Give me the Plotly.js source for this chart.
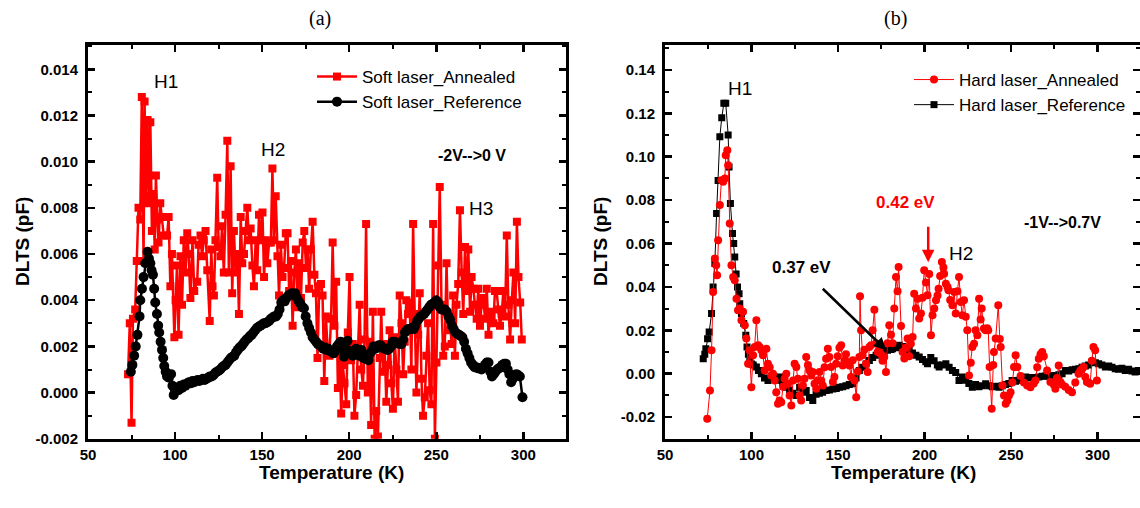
<!DOCTYPE html>
<html>
<head>
<meta charset="utf-8">
<script src="https://cdn.plot.ly/plotly-3.0.1.min.js"></script>
<style>html,body{margin:0;padding:0;background:#fff;}#chart{width:1140px;height:508px;}</style>
</head>
<body>
<div id="chart"></div>
<script>
// ---------- Panel (a): soft laser ----------
const softAnnT = [73.0,74.0,75.0,75.8,77.1,78.0,79.0,80.0,80.9,81.9,82.5,83.3,84.2,85.0,85.8,86.7,87.5,88.3,89.0,89.8,90.5,91.5,92.5,93.5,95.4,96.3,97.3,98.2,99.6,100.3,101.1,102.0,103.1,104.0,105.0,106.0,107.0,107.8,108.8,110.0,111.0,112.7,113.5,114.6,115.5,116.5,117.5,118.5,119.9,120.8,121.5,122.3,123.2,124.2,125.0,126.1,127.0,128.0,129.0,130.0,130.9,131.9,132.8,133.8,134.8,135.8,136.7,137.7,138.6,139.6,140.5,141.5,142.4,143.4,144.4,145.3,146.3,147.2,148.2,149.2,150.2,151.1,152.1,153.0,154.0,155.0,155.9,156.8,157.8,158.8,159.7,160.7,161.7,162.6,163.6,164.6,165.5,166.5,167.5,168.5,169.4,170.4,171.3,172.3,173.3,174.2,175.2,176.1,177.0,178.0,179.0,180.0,180.9,181.8,182.8,183.8,184.7,185.7,186.6,187.6,188.6,189.6,190.5,191.5,192.5,193.5,194.4,195.4,196.3,197.3,198.3,199.2,200.2,201.1,202.1,203.0,204.0,205.0,206.0,206.9,207.9,208.8,209.7,210.7,211.6,212.6,213.6,214.6,215.5,216.5,217.5,218.4,219.4,220.3,221.3,222.3,223.2,224.2,225.1,226.1,227.1,228.0,229.0,230.0,231.0,231.9,232.8,233.8,234.7,235.7,236.7,237.6,238.6,239.6,240.5,241.5,242.4,243.4,244.3,245.3,246.2,247.2,248.2,249.2,250.1,251.1,252.0,253.0,254.0,254.9,255.9,256.8,257.8,258.8,259.7,260.7,261.6,262.6,263.6,264.6,265.5,266.5,267.5,268.4,269.4,270.3,271.3,272.2,273.2,274.1,275.1,276.0,277.0,278.0,279.0,280.0,280.9,281.8,282.8,283.7,284.7,285.6,286.6,287.6,288.5,289.5,290.5,291.4,292.4,293.4,294.3,295.3,296.3,297.2,298.2,299.1];
const softAnnV = [0.0008,0.0030,-0.0013,0.0032,0.0036,0.0057,0.0080,0.0075,0.0128,0.0057,0.0126,0.0085,0.0118,0.0082,0.0117,0.0070,0.0086,0.0062,0.0094,0.0075,0.0065,0.0082,0.0076,0.0068,0.0068,0.0076,0.0046,0.0060,0.0024,0.0040,0.0055,0.0025,0.0059,0.0038,0.0066,0.0052,0.0069,0.0060,0.0041,0.0066,0.0044,0.0048,0.0064,0.0068,0.0059,0.0066,0.0070,0.0053,0.0031,0.0062,0.0046,0.0042,0.0066,0.0093,0.0063,0.0059,0.0072,0.0052,0.0077,0.0109,0.0052,0.0098,0.0043,0.0070,0.0052,0.0060,0.0034,0.0076,0.0056,0.0060,0.0070,0.0080,0.0066,0.0071,0.0055,0.0046,0.0066,0.0053,0.0077,0.0066,0.0078,0.0050,0.0066,0.0056,0.0065,0.0065,0.0097,0.0066,0.0085,0.0059,0.0042,0.0064,0.0050,0.0054,0.0069,0.0069,0.0044,0.0057,0.0029,0.0052,0.0062,0.0037,0.0056,0.0041,0.0065,0.0070,0.0054,0.0062,0.0045,0.0062,0.0074,0.0051,0.0043,0.0015,0.0046,0.0047,0.0042,0.0005,0.0033,0.0019,0.0016,0.0032,0.0065,0.0029,0.0048,0.0002,0.0020,-0.0009,0.0012,0.0004,-0.0005,0.0026,0.0050,0.0014,0.0021,-0.0010,-0.0001,0.0018,0.0038,0.0010,0.0003,0.0023,0.0073,0.0000,0.0022,-0.0014,0.0035,-0.0020,-0.0008,-0.0019,0.0015,0.0035,0.0009,0.0021,-0.0004,0.0012,0.0027,0.0004,-0.0007,0.0024,0.0010,-0.0004,0.0042,0.0030,0.0008,0.0022,0.0040,0.0034,0.0039,0.0010,0.0073,0.0034,0.0000,0.0025,0.0043,0.0006,-0.0010,-0.0002,0.0016,0.0030,0.0001,-0.0005,0.0073,-0.0020,0.0013,0.0055,0.0089,0.0038,0.0016,0.0020,0.0056,0.0027,0.0032,0.0021,0.0042,0.0016,0.0038,0.0047,0.0079,0.0052,0.0034,0.0063,0.0044,0.0062,0.0035,0.0050,0.0045,0.0038,0.0032,0.0045,0.0029,0.0038,0.0041,0.0032,0.0045,0.0025,0.0035,0.0033,0.0030,0.0044,0.0044,0.0036,0.0029,0.0034,0.0044,0.0033,0.0068,0.0038,0.0023,0.0040,0.0052,0.0030,0.0074,0.0050,0.0039,0.0023];

const softRefT = [74.6,75.5,76.5,77.4,78.4,79.6,80.0,81.0,81.9,82.9,84.2,85.0,85.8,86.5,87.3,88.0,88.6,89.6,90.3,90.9,91.7,92.5,93.2,93.8,94.6,95.4,96.5,97.7,98.5,99.2,100,101,102,103,104,105,106,107,108,109,110,111,112,113,114,115,116,117,118,119,120,121,122,123,124,125,126,127,128,129,130,131,132,133,134,135,136,137,138,139,140,141,142,143,144,145,146,147,148,149,150,151,152,153,154,155,156,157,158,159,160,161,162,163,164,165,166,167,168,169,170,171,172,173,174,175,176,177,178,179,180,181,182,183,184,185,186,187,188,189,190,191,192,193,194,195,196,197,198,199,200,201,202,203,204,205,206,207,208,209,210,211,212,213,214,215,216,217,218,219,220,221,222,223,224,225,226,227,228,229,230,231,232,233,234,235,236,237,238,239,240,241,242,243,244,245,246,247,248,249,250,251,252,253,254,255,256,257,258,259,260,261,262,263,264,265,266,267,268,269,270,271,272,273,274,275,276,277,278,279,280,281,282,283,284,285,286,287,288,289,290,291,292,293,294,295,296,297,298,299.5];
const softRefV = [0.0009,0.0012,0.0016,0.0020,0.0025,0.0033,0.0040,0.0045,0.0050,0.0056,0.0061,0.0058,0.0056,0.0053,0.0051,0.0045,0.0039,0.0034,0.0029,0.0026,0.0022,0.00185,0.0015,0.00115,0.0009,0.0007,0.00065,0.0008,0.0003,-0.0001,0.0001,0.0002,0.0001,0.0003,0.0002,0.00035,0.0003,0.0004,0.00045,0.0004,0.0005,0.00045,0.0005,0.00055,0.0005,0.00055,0.0006,0.00055,0.0006,0.00065,0.0007,0.0007,0.00075,0.00085,0.0009,0.00095,0.0010,0.0011,0.00115,0.0012,0.0013,0.0014,0.0015,0.00155,0.0016,0.00175,0.00185,0.00195,0.0020,0.0021,0.0022,0.0023,0.00235,0.00245,0.0025,0.0026,0.0027,0.0028,0.00285,0.0029,0.00295,0.0030,0.0030,0.00305,0.0031,0.0032,0.00325,0.0033,0.0033,0.0034,0.0036,0.0039,0.0040,0.00395,0.0041,0.0042,0.00425,0.0043,0.00425,0.0043,0.0041,0.00395,0.00385,0.0037,0.00365,0.0033,0.0030,0.0028,0.0026,0.0024,0.0023,0.0022,0.0021,0.00205,0.0020,0.0019,0.00195,0.00185,0.0019,0.0018,0.00175,0.0017,0.0018,0.0020,0.0021,0.0022,0.0019,0.00155,0.0017,0.00225,0.0018,0.0017,0.0016,0.0017,0.0019,0.0018,0.0016,0.00185,0.0015,0.0016,0.00145,0.0014,0.0017,0.0018,0.0020,0.0019,0.0020,0.00205,0.00205,0.00195,0.0019,0.0019,0.00185,0.0019,0.0020,0.0022,0.0022,0.00215,0.00215,0.0021,0.0021,0.0023,0.0026,0.0027,0.00275,0.00275,0.0028,0.00275,0.0029,0.0031,0.0032,0.0033,0.00335,0.0034,0.0035,0.0036,0.0037,0.0038,0.00385,0.0039,0.0040,0.0039,0.0037,0.0036,0.0036,0.0036,0.0035,0.0033,0.00315,0.0029,0.00275,0.0026,0.00255,0.0025,0.00245,0.0024,0.0022,0.0019,0.0017,0.0015,0.0013,0.0012,0.0011,0.0011,0.00105,0.00105,0.0010,0.0011,0.0012,0.0013,0.0013,0.0009,0.0007,0.0008,0.0009,0.0010,0.00105,0.0011,0.0012,0.00125,0.00125,0.0010,0.0008,0.00045,0.0006,0.00075,0.0008,0.00075,0.0007,-0.0002];

// ---------- Panel (b): hard laser ----------
const hardRefT = [72.1,73.0,73.6,74.6,75.5,76.9,77.8,78.8,79.8,80.7,81.7,82.8,84.0,85.1,86.5,87.0,87.8,89.0,89.7,90.3,91.1,91.9,92.8,93.2,94.2,95.5,96.7,97.4,98.2,99.0,100.0,101.0,102.8,104.0,105.7,107.5,109.5,111.5,113.4,115.0,116.2,118.0,120.1,122.0,124.0,125.9,127.8,129.7,131.6,133.5,135.4,137.3,139.2,141.1,143.1,145.0,147.0,149.0,150.8,152.7,154.6,156.5,158.5,160.4,162.3,164.2,166.2,168.1,170.0,172.0,173.9,174.8,176.7,178.6,180.6,181.5,183.4,185.4,187.3,189.2,191.1,193.0,195.0,196.9,198.8,200.7,201.7,203.6,205.5,207.4,208.4,210.3,212.3,214.2,216.1,218.0,219.9,221.8,223.7,225.6,227.6,229.5,231.4,233.3,235.3,237.2,239.1,241.0,243.0,244.9,246.8,248.7,250.6,252.6,254.5,256.4,258.4,260.3,262.2,264.1,266.0,268.0,269.9,271.8,273.7,275.6,277.6,279.5,281.4,283.3,285.3,287.2,289.1,291.0,292.9,294.8,296.7,298.7,300.6,302.5,304.5,306.4,308.3,310.2,312.1,314.0,316.0,317.9,319.8,321.7,323.6];
const hardRefV = [0.0069,0.0090,0.0115,0.0161,0.0192,0.0277,0.0400,0.0508,0.0738,0.0890,0.1092,0.1180,0.1246,0.1246,0.1100,0.0953,0.0785,0.0646,0.0600,0.0538,0.0460,0.0400,0.0369,0.0323,0.0277,0.0231,0.0177,0.0123,0.0090,0.0061,0.0045,0.0040,0.0031,0.0015,0.0000,-0.0020,-0.0031,-0.0025,-0.0015,-0.0030,-0.0015,-0.0040,-0.0062,-0.0075,-0.0090,-0.0100,-0.0062,-0.0085,-0.0077,-0.0110,-0.0123,-0.0095,-0.0090,-0.0085,-0.0077,-0.0075,-0.0070,-0.0068,-0.0062,-0.0060,-0.0055,-0.0050,-0.0046,-0.0020,0.0015,0.0030,0.0045,0.0061,0.0075,0.0085,0.0095,0.0100,0.0105,0.0108,0.0112,0.0115,0.0120,0.0131,0.0125,0.0115,0.0108,0.0095,0.0085,0.0077,0.0065,0.0055,0.0046,0.0075,0.0060,0.0040,0.0031,0.0040,0.0046,0.0030,0.0015,0.0005,-0.0031,-0.0015,-0.0030,-0.0045,-0.0062,-0.0050,-0.0060,-0.0055,-0.0046,-0.0055,-0.0060,-0.0058,-0.0062,-0.0055,-0.0050,-0.0045,-0.0031,-0.0035,-0.0030,-0.0025,-0.0015,-0.0020,-0.0018,-0.0020,-0.0015,-0.0012,-0.0010,-0.0012,-0.0008,-0.0010,-0.0005,0.0000,0.0015,0.0012,0.0018,0.0020,0.0023,0.0030,0.0035,0.0040,0.0054,0.0050,0.0046,0.0040,0.0031,0.0035,0.0030,0.0023,0.0020,0.0025,0.0015,0.0020,0.0012,0.0008,0.0015];

const hardAnnT = [74.4,76.0,76.9,77.8,78.8,79.6,80.1,80.7,81.7,82.6,83.6,84.6,85.1,86.0,86.5,87.4,88.4,89.4,90.3,91.3,92.2,93.2,94.2,95.1,96.1,97.0,98.0,98.9,99.9,100.9,101.8,102.8,103.8,104.7,105.7,106.6,107.6,108.6,109.5,110.5,111.4,112.4,113.4,114.3,115.3,116.2,117.2,118.2,119.1,120.1,121.1,122.0,123.0,124.0,124.9,125.9,126.8,127.8,128.7,129.7,130.6,131.6,132.6,133.5,134.5,135.4,136.4,137.4,138.3,139.3,140.3,141.2,142.2,143.1,144.1,145.0,146.0,147.0,147.9,148.9,149.8,150.8,151.8,152.7,153.7,154.6,155.6,156.6,157.5,158.5,159.5,160.5,161.4,162.3,162.7,163.3,164.2,165.2,166.2,167.1,168.1,169.1,170.0,171.0,171.9,172.9,173.8,174.8,175.7,176.7,177.7,178.6,179.6,180.6,181.5,182.5,183.5,184.4,185.0,186.4,187.3,188.3,189.2,190.2,191.1,192.1,193.1,194.0,195.0,196.0,196.9,197.9,198.8,199.8,200.8,201.7,202.7,203.7,204.6,205.6,206.6,207.5,208.1,209.0,210.0,210.9,211.3,212.3,213.3,213.8,214.8,216.1,217.1,218.0,219.0,219.9,220.9,221.8,222.8,223.8,224.7,225.7,226.7,227.6,228.6,229.5,230.5,231.5,232.4,233.0,234.3,235.3,236.2,236.8,237.6,238.8,239.7,240.1,241.1,242.6,243.5,244.0,245.0,245.9,246.9,247.9,248.8,249.7,250.7,251.7,252.6,253.6,255.5,257.4,259.3,261.2,263.1,264.1,265.1,266.0,267.0,268.0,268.9,270.8,272.7,274.6,275.6,276.5,277.5,278.5,279.4,281.3,283.3,285.2,287.1,289.0,290.0,290.9,291.9,292.9,293.8,294.8,295.7,296.7,297.6,298.6,299.6];
const hardAnnV = [-0.0208,-0.0077,0.0108,0.0377,0.0531,0.0500,0.0454,0.0615,0.0777,0.0892,0.0885,0.0900,0.1007,0.1030,0.0961,0.0692,0.0500,0.0446,0.0431,0.0346,0.0292,0.0300,0.0246,0.0285,0.0223,0.0162,0.0046,0.0108,-0.0062,0.0085,0.0123,0.0246,0.0131,0.0123,0.0108,0.0085,0.0015,0.0115,0.0046,0.0030,-0.0008,0.0000,-0.0031,-0.0085,-0.0138,-0.0123,-0.0131,-0.0060,-0.0023,0.0000,-0.0046,-0.0100,-0.0146,-0.0031,0.0046,0.0031,-0.0023,-0.0100,-0.0123,-0.0054,-0.0023,0.0077,0.0040,0.0015,-0.0008,0.0008,-0.0046,-0.0069,-0.0030,0.0008,-0.0031,-0.0054,0.0030,0.0069,0.0115,0.0077,0.0031,-0.0038,-0.0015,0.0046,0.0080,0.0120,0.0131,0.0038,0.0060,0.0090,0.0054,0.0038,-0.0015,0.0062,-0.0031,-0.0108,0.0010,0.0077,0.0357,0.0200,0.0085,0.0110,0.0046,0.0008,0.0123,0.0131,0.0200,0.0295,0.0140,0.0100,0.0115,0.0090,0.0060,0.0077,0.0008,0.0140,0.0223,0.0180,0.0140,0.0300,0.0446,0.0380,0.0492,0.0220,0.0100,0.0070,0.0120,0.0162,0.0080,0.0138,0.0169,0.0369,0.0300,0.0346,0.0254,0.0277,0.0350,0.0477,0.0420,0.0362,0.0460,0.0177,0.0269,0.0300,0.0338,0.0360,0.0392,0.0450,0.0515,0.0490,0.0461,0.0415,0.0400,0.0385,0.0340,0.0315,0.0377,0.0277,0.0380,0.0446,0.0330,0.0269,0.0338,0.0262,0.0200,-0.0008,0.0050,0.0123,0.0138,0.0200,0.0177,0.0346,0.0250,0.0300,0.0208,0.0200,0.0210,0.0200,0.0031,-0.0162,0.0040,0.0100,0.0162,0.0315,0.0160,0.0123,-0.0054,-0.0100,-0.0138,-0.0123,-0.0100,-0.0085,-0.0040,0.0031,0.0085,0.0031,-0.0010,-0.0040,-0.0054,-0.0062,-0.0045,-0.0031,0.0030,0.0069,0.0090,0.0100,0.0080,0.0015,-0.0038,-0.0050,-0.0069,-0.0020,0.0038,-0.0038,-0.0050,-0.0060,-0.0075,-0.0085,-0.0040,0.0000,0.0015,0.0020,0.0031,-0.0015,-0.0038,-0.0040,-0.0046,0.0060,0.0123,0.0108,-0.0031];

// ---------- Tick labels ----------
const xTickVals = [50,100,150,200,250,300];
const xTickText = ['50','100','150','200','250','300'];
const yTickValsA = [-0.002,0,0.002,0.004,0.006,0.008,0.010,0.012,0.014];
const yTickTextA = ['-0.002','0.000','0.002','0.004','0.006','0.008','0.010','0.012','0.014'];
const yTickValsB = [-0.02,0,0.02,0.04,0.06,0.08,0.10,0.12,0.14];
const yTickTextB = ['-0.02','0.00','0.02','0.04','0.06','0.08','0.10','0.12','0.14'];

const W = 1140, H = 508;
const px = v => v / W;
const py = v => 1 - v / H;
const FONT = 'Liberation Sans, Arial, sans-serif';
const tickFont = {family: FONT, size: 15, color: '#000', weight: 'bold'};
const titleFont = {family: FONT, size: 19, color: '#000', weight: 'bold'};

const traces = [
  {x: softAnnT, y: softAnnV, xaxis: 'x', yaxis: 'y', mode: 'lines+markers', name: 'Soft laser_Annealed',
   line: {color: '#ff0000', width: 2.5}, marker: {symbol: 'square', size: 8, color: '#ff0000'}, legend: 'legend'},
  {x: softRefT, y: softRefV, xaxis: 'x', yaxis: 'y', mode: 'lines+markers', name: 'Soft laser_Reference',
   line: {color: '#000', width: 2.5}, marker: {symbol: 'circle', size: 10, color: '#000'}, legend: 'legend'},
  {x: hardRefT, y: hardRefV, xaxis: 'x2', yaxis: 'y2', mode: 'lines+markers', name: 'Hard laser_Reference',
   line: {color: '#000', width: 1}, marker: {symbol: 'square', size: 7, color: '#000'}, legend: 'legend2', legendrank: 2},
  {x: hardAnnT, y: hardAnnV, xaxis: 'x2', yaxis: 'y2', mode: 'lines+markers', name: 'Hard laser_Annealed',
   line: {color: '#ff0000', width: 1}, marker: {symbol: 'circle', size: 8, color: '#ff0000'}, legend: 'legend2', legendrank: 1}
];

function xax(domain, anchor) {
  return {domain: domain, anchor: anchor, range: [50, 324.5], showgrid: false, zeroline: false,
    showline: true, linewidth: 3, linecolor: '#000', mirror: 'ticks',
    ticks: 'inside', ticklen: 7, tickwidth: 2.5, tickcolor: '#000',
    tickmode: 'array', tickvals: xTickVals, ticktext: xTickText, tickfont: tickFont,
    minor: {ticks: 'inside', ticklen: 4, tickwidth: 2, tickcolor: '#000', dtick: 25, tick0: 50}};
}
function yax(domain, anchor, range, vals, text, minorD) {
  return {domain: domain, anchor: anchor, range: range, showgrid: false, zeroline: false,
    showline: true, linewidth: 3, linecolor: '#000', mirror: 'ticks',
    ticks: 'inside', ticklen: 7, tickwidth: 2.5, tickcolor: '#000', ticklabelstandoff: 4,
    tickmode: 'array', tickvals: vals, ticktext: text, tickfont: tickFont,
    minor: {ticks: 'inside', ticklen: 4, tickwidth: 2, tickcolor: '#000', dtick: minorD}};
}

const yDom = [py(438.8), py(45)];
const annFont = {family: FONT, size: 19, color: '#000'};
const boldFont = {family: FONT, size: 16, color: '#000', weight: 'bold'};
function lab(text, x, y, font, angle) {
  return {text: text, xref: 'paper', yref: 'paper', x: px(x), y: py(y), textangle: angle || 0,
    xanchor: 'center', yanchor: 'middle', showarrow: false, font: font};
}

const layout = {
  width: W, height: H, margin: {l: 0, r: 0, t: 0, b: 0},
  paper_bgcolor: '#fff', plot_bgcolor: '#fff', showlegend: true,
  xaxis: xax([px(88), px(566)], 'y'),
  yaxis: yax(yDom, 'x', [-0.002, 0.01505], yTickValsA, yTickTextA, 0.001),
  xaxis2: xax([px(665), 1], 'y2'),
  yaxis2: yax(yDom, 'x2', [-0.03, 0.1515], yTickValsB, yTickTextB, 0.01),
  legend: {x: px(312), y: py(59), xanchor: 'left', yanchor: 'top', bgcolor: 'rgba(0,0,0,0)',
    font: {family: FONT, size: 17, color: '#000'}, itemwidth: 40, tracegroupgap: 0},
  legend2: {x: px(909), y: py(62), xanchor: 'left', yanchor: 'top', bgcolor: 'rgba(0,0,0,0)',
    font: {family: FONT, size: 17, color: '#000'}, itemwidth: 40, tracegroupgap: 0},
  annotations: [
    lab('(a)', 320, 18, {family: 'Liberation Serif, Times New Roman, serif', size: 20, color: '#000'}),
    lab('(b)', 895, 18, {family: 'Liberation Serif, Times New Roman, serif', size: 20, color: '#000'}),
    lab('Temperature (K)', 331, 472, titleFont),
    lab('Temperature (K)', 903, 472, titleFont),
    lab('DLTS (pF)', 22, 242, titleFont, -90),
    lab('DLTS (pF)', 600, 242, titleFont, -90),
    lab('H1', 166, 82, annFont),
    lab('H2', 273, 150, annFont),
    lab('H3', 481, 209, annFont),
    lab('-2V-->0 V', 472, 155, boldFont),
    lab('H1', 740, 88, annFont),
    lab('H2', 961, 253, annFont),
    lab('0.42 eV', 905, 203, {family: FONT, size: 17, color: '#ff0000', weight: 'bold'}),
    lab('0.37 eV', 801, 267, {family: FONT, size: 17, color: '#000', weight: 'bold'}),
    lab('-1V-->0.7V', 1062, 222, boldFont),
    {text: '', xref: 'x2', yref: 'y2', x: 177.9, y: 0.0108, ax: -65, ay: -63, showarrow: true,
     arrowhead: 2, arrowsize: 1, arrowwidth: 2.5, arrowcolor: '#000'},
    {text: '', xref: 'x2', yref: 'y2', x: 202.1, y: 0.0514, ax: 0, ay: -37, showarrow: true,
     arrowhead: 2, arrowsize: 1, arrowwidth: 2.5, arrowcolor: '#ff0000'}
  ]
};

Plotly.newPlot('chart', traces, layout, {displayModeBar: false, staticPlot: true});
</script>
</body>
</html>
